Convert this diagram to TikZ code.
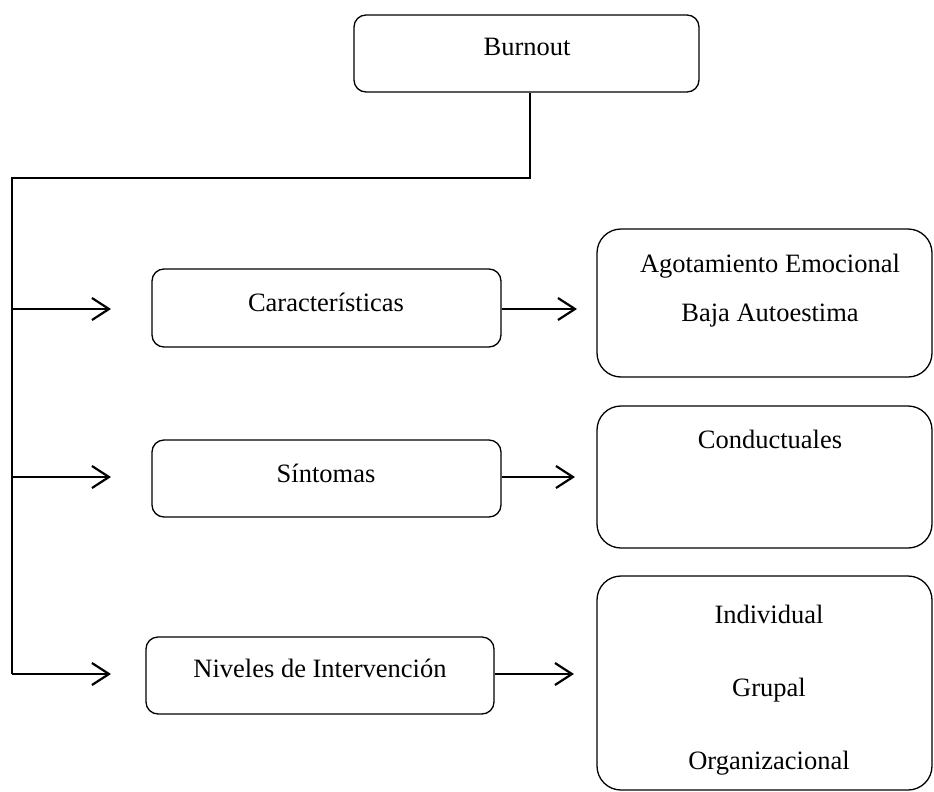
\documentclass[tikz,border=0pt]{standalone}
\usepackage{fontspec}
\setmainfont{Liberation Serif}
\usetikzlibrary{arrows.meta}
\begin{document}
\begin{tikzpicture}[x=1pt,y=-1pt,
  box/.style={draw, line width=1.3pt, rounded corners=12pt, inner sep=0pt},
  bigbox/.style={draw, line width=1.3pt, rounded corners=24pt, inner sep=0pt},
  lbl/.style={font=\fontsize{26.5}{30}\selectfont, inner sep=0pt, anchor=center},
  conn/.style={line width=2.2pt},
  arr/.style={line width=2.2pt, -{Straight Barb[length=17pt,width=22pt]}}]
\useasboundingbox (0,0) rectangle (934,792);
% boxes
\node[box, minimum width=345pt, minimum height=77pt] (burn) at (526.5,53.5) {};
\node[lbl] (burnt) at (527,47) {Burnout};
\node[box, minimum width=349pt, minimum height=78pt] (car) at (326.5,308) {};
\node[lbl] (cart) at (326,302) {Características};
\node[box, minimum width=349pt, minimum height=77pt] (sin) at (326.5,478.5) {};
\node[lbl] (sint) at (326,473) {Síntomas};
\node[box, minimum width=348pt, minimum height=77pt] (niv) at (320,675.5) {};
\node[lbl] (nivt) at (320,668) {Niveles de Intervención};
\node[bigbox, minimum width=335pt, minimum height=148pt] (r1) at (764.5,303) {};
\node[lbl] (r1a) at (770,266) {Agotamiento Emocional};
\node[lbl] (r1b) at (770,316) {Baja Autoestima};
\node[bigbox, minimum width=335pt, minimum height=142pt] (r2) at (764.5,477) {};
\node[lbl] (r2a) at (770,439) {Conductuales};
\node[bigbox, minimum width=335pt, minimum height=214pt] (r3) at (764.5,683) {};
\node[lbl] (r3a) at (769,614) {Individual};
\node[lbl] (r3b) at (769,690) {Grupal};
\node[lbl] (r3c) at (769,763) {Organizacional};
% spine
\coordinate (j1) at (530,178);
\coordinate (j2) at (12,178);
\coordinate (s1) at (12,309);
\coordinate (s2) at (12,477);
\coordinate (s3) at (12,674);
\coordinate (e1) at (111,309);
\coordinate (e2) at (111,477);
\coordinate (e3) at (111,674);
\draw[conn] (burn.south -| j1) -- (j1) -- (j2) -- (s3);
\draw[arr] (s1) -- (e1);
\draw[arr] (s2) -- (e2);
\draw[arr] (s3) -- (e3);
% right arrows
\coordinate (f1) at (577,309);
\coordinate (f2) at (575,477);
\coordinate (f3) at (571,674);
\draw[arr] (car.east |- f1) -- (f1);
\draw[arr] (sin.east |- f2) -- (f2);
\draw[arr] (niv.east |- f3) -- ([xshift=3pt]f3);
\end{tikzpicture}
\end{document}
